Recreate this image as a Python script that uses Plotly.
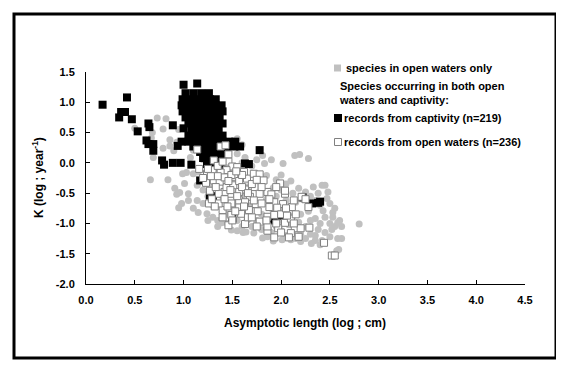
import plotly.graph_objects as go

# ---------------- data ----------------
gray_x = [0.50,0.73,0.82,0.79,0.68,0.86,0.93,0.86,0.79,0.67,0.69,0.66,0.84,0.91,0.96,0.99,1.03,0.93,0.98,0.95,
          1.05,1.01,1.10,1.07,1.14,1.10,1.14,1.20,1.24,1.30,1.39,1.35,1.49,1.55,1.61,1.64,1.72,1.81,1.86,1.92,
          2.01,2.10,2.20,2.31,2.40,2.59,2.57,2.62,2.58,2.80,2.58,2.50,2.53,2.50,2.47,2.42,2.45,2.43,2.35,2.30,
          2.19,2.28,2.14,2.02,1.83,1.81,1.85,1.63,1.92,1.78,
          1.95,2.00,2.05,2.10,2.05,2.12,2.18,2.25,2.15,2.22,2.30,2.35,2.40,2.28,2.20,2.12,2.02,1.98,2.08,2.18,
          2.25,2.35,2.40,2.45,2.38,2.45,2.52,2.55,2.62,2.50,2.30,2.20,2.12,2.00,1.95,1.90,2.42,2.48,2.55,2.60,
          2.53,2.33,2.38,2.00,1.95,1.90,1.75,1.70,1.60,1.55,1.45,1.50,
          1.30,1.40,1.50,1.60,1.70,1.80,1.45,1.55,1.65,1.75,1.25,1.20,1.30,1.40,1.85,1.90,1.20,1.15,1.20,1.25,
          1.30,1.15,1.05,0.95,0.90,1.60,1.55,1.45,1.75,1.65,1.35,1.45,1.60,1.70,1.80,1.85,2.05,2.15,2.25,2.35,
          1.10,1.15,1.05,1.25]
gray_y = [0.57,0.74,0.73,0.56,0.50,0.38,0.34,0.28,0.24,0.41,0.09,-0.28,-0.28,-0.42,-0.49,-0.18,-0.16,-0.52,-0.67,-0.74,
          -0.51,-0.34,0.21,0.09,-0.37,-0.18,-0.62,-0.67,-0.84,-0.90,-0.99,-0.95,-1.11,-1.12,-1.15,-1.14,-1.16,-1.24,-1.22,-1.29,
          -1.27,-1.27,-1.30,-1.33,-1.35,-1.43,-1.45,-1.25,-1.25,-1.01,-0.99,-1.00,-0.82,-0.67,-0.59,-0.37,-0.37,-0.79,-1.20,-0.95,
          0.14,0.07,0.12,-0.01,-0.01,0.12,-0.21,0.09,-0.41,0.22,
          -0.55,-0.45,-0.35,-0.30,-0.62,-0.50,-0.42,-0.48,-0.65,-0.60,-0.55,-0.62,-0.70,-0.80,-0.85,-0.88,-0.80,-0.95,-1.02,-0.98,
          -1.05,-0.92,-1.00,-0.90,-1.10,-1.15,-1.10,-1.05,-1.05,-1.22,-1.18,-1.18,-1.15,-1.12,-1.05,-1.15,-1.28,-0.48,-0.75,-0.95,
          -0.90,-0.40,-0.50,-0.20,-0.28,0.05,0.05,-0.05,0.00,0.15,0.10,-0.10,
          -0.40,-0.55,-0.70,-0.55,-0.70,-0.85,-0.85,-0.95,-0.95,-0.95,-0.55,-0.45,-0.70,-0.80,-0.60,-0.75,-0.30,-0.15,0.05,0.20,
          0.30,0.35,0.45,0.55,0.20,0.30,0.40,-0.20,-0.30,-0.40,-1.05,-1.00,-1.05,-1.05,-1.10,-1.05,-1.20,-1.25,-1.25,-1.28,
          -0.75,-0.82,-0.62,-0.95]

captive_x = [0.17,0.42,0.34,0.36,0.40,0.47,0.53,0.64,0.65,0.62,0.64,0.69,0.69,0.78,0.80,0.89,0.97,0.89,0.94,1.00,
             1.08,1.00,1.14,1.78,1.67,1.17,1.30,1.50,2.00,1.92,2.22,2.32,2.38,2.40,1.63,1.27,
             1.02,1.10,1.18,1.26,
             0.99,1.06,1.13,1.20,1.27,1.33,
             0.98,1.05,1.12,1.19,1.26,1.33,1.39,
             0.99,1.06,1.13,1.20,1.27,1.34,1.40,
             1.02,1.09,1.16,1.23,1.30,1.37,
             1.05,1.12,1.19,1.26,1.33,1.40,
             1.08,1.15,1.22,1.29,1.36,
             1.05,1.12,1.19,1.26,1.33,1.40,
             0.98,1.05,1.12,1.19,1.26,1.33,1.40,1.47,1.53,
             1.10,1.17,1.24,1.31,1.38,1.45,1.52,1.58,
             1.17,1.24,1.31,1.38,1.45,
             1.20,1.27,1.34,1.41,
             1.24,1.31,1.38,
             1.33,1.40]
captive_y = [0.96,1.08,0.75,0.84,0.84,0.72,0.52,0.65,0.59,0.37,0.31,0.31,0.20,0.04,-0.03,0.00,0.00,0.62,0.28,0.57,
             -0.03,1.29,1.31,0.21,-0.02,-0.29,-0.55,-0.92,-0.87,-0.95,-0.57,-0.67,-0.66,-0.64,-0.01,-0.54,
             1.15,1.15,1.15,1.15,
             1.05,1.05,1.05,1.05,1.05,1.05,
             0.95,0.95,0.95,0.95,0.95,0.95,0.95,
             0.85,0.85,0.85,0.85,0.85,0.85,0.85,
             0.75,0.75,0.75,0.75,0.75,0.75,
             0.65,0.65,0.65,0.65,0.65,0.65,
             0.55,0.55,0.55,0.55,0.55,
             0.45,0.45,0.45,0.45,0.45,0.45,
             0.35,0.35,0.35,0.35,0.35,0.35,0.35,0.35,0.35,
             0.27,0.27,0.27,0.27,0.27,0.27,0.27,0.27,
             0.18,0.18,0.18,0.18,0.18,
             0.08,0.08,0.08,0.08,
             -0.02,-0.02,-0.02,
             -0.12,-0.12]

open_x = [1.14,1.38,1.43,1.31,1.46,1.46,1.50,1.16,1.24,1.30,1.37,1.44,1.55,1.62,1.65,1.72,1.78,1.82,1.73,1.86,
          1.63,1.68,1.74,1.80,1.93,1.99,2.04,2.02,2.11,2.21,2.28,2.04,2.10,2.14,2.20,2.29,2.10,2.08,2.18,1.93,
          1.86,1.86,1.78,1.75,1.63,1.46,1.59,1.49,1.40,1.36,1.26,1.49,1.57,1.67,1.76,1.86,1.93,1.88,1.96,2.00,
          2.06,1.97,2.44,2.52,2.55,1.48,1.57,1.42,1.36,1.57,1.44,1.52,1.78,1.72,1.23,1.27,1.31,1.37,1.38,1.42,
          1.49,1.51,1.57,1.60,1.33,1.29,1.42,1.53,1.63,1.66,1.70,1.75,1.90,1.95,2.04,2.13,2.05,2.15,2.25,1.20,
          1.25,1.35,1.40,1.48,1.55,1.60,1.66,1.70,1.85,2.13,1.40,1.50,1.32,1.45,1.62,1.80,1.88,1.95,2.00,1.35,
          1.46,1.54,1.28]
open_y = [0.22,0.27,0.29,0.04,0.14,0.02,-0.06,-0.10,-0.18,-0.12,-0.18,-0.12,-0.07,-0.15,-0.26,-0.18,-0.19,-0.29,-0.40,-0.48,
          -0.44,-0.56,-0.68,-0.67,-0.65,-0.34,-0.51,-0.68,-0.73,-0.56,-0.73,-0.99,-0.92,-1.08,-1.08,-1.07,-1.16,-1.23,-1.22,-1.23,
          -1.12,-1.05,-0.97,-1.05,-1.01,-1.03,-0.84,-0.86,-0.78,-0.67,-0.67,-0.67,-0.73,-0.78,-0.80,-0.89,-0.86,-0.73,-0.74,-0.85,
          -0.87,-1.08,-1.32,-1.53,-1.53,-0.51,-0.48,-0.48,-0.51,-0.62,-0.40,-0.23,-0.51,-0.62,-0.33,-0.46,-0.29,-0.31,-0.16,-0.24,
          -0.20,-0.37,-0.30,-0.20,-0.40,-0.60,-0.60,-0.80,-0.65,-0.90,-0.35,-0.28,-0.52,-0.40,-0.46,-0.62,-0.75,-0.85,-0.60,-0.25,
          -0.10,-0.05,0.02,-0.45,-0.55,-0.40,-0.50,-0.90,-0.95,-1.00,-0.90,-0.95,-0.72,-0.72,-0.72,-0.40,-0.60,-1.00,-1.15,-0.22,
          -0.30,-0.14,-0.22]

x_ticks = [0.0, 0.5, 1.0, 1.5, 2.0, 2.5, 3.0, 3.5, 4.0, 4.5]
y_ticks = [1.5, 1.0, 0.5, 0.0, -0.5, -1.0, -1.5, -2.0]

legend_labels = ["species in open waters only",
                 "Species occurring in both open<br>waters and captivity:",
                 "records from captivity (n=219)",
                 "records from open waters (n=236)"]

# ---------------- figure ----------------
# The page body has an 8px default margin, so the figure is drawn 8px in from the
# window corner; all reference-pixel positions are shifted by OFF.
OFF = 8
W, H = 564 - OFF, 372 - OFF
L, R, T, B = 86 - OFF, 525 - OFF, 72 - OFF, 284 - OFF   # plot area in figure pixels

def px(xp):
    """reference window pixel x -> paper coordinate"""
    return (xp - OFF - L) / (R - L)

def py(yp):
    """reference window pixel y -> paper coordinate"""
    return (B - (yp - OFF)) / (B - T)

FONT = "Arial, Liberation Sans, sans-serif"
GRAY = "#C0C0C0"

fig = go.Figure()
fig.add_trace(go.Scatter(x=gray_x, y=gray_y, mode="markers", name=legend_labels[0],
                         marker=dict(symbol="circle", size=7, color=GRAY, line=dict(width=0))))
fig.add_trace(go.Scatter(x=captive_x, y=captive_y, mode="markers", name=legend_labels[2],
                         marker=dict(symbol="square", size=8, color="black", line=dict(width=0))))
fig.add_trace(go.Scatter(x=open_x, y=open_y, mode="markers", name=legend_labels[3],
                         marker=dict(symbol="square", size=7, color="white",
                                     line=dict(width=1, color="#808080"))))

axis_common = dict(showline=True, linecolor="black", linewidth=1, showgrid=False, zeroline=False,
                   ticks="inside", ticklen=4, tickwidth=1, tickcolor="black",
                   tickfont=dict(family=FONT, size=11, color="black", weight="bold"))

fig.update_xaxes(range=[0, 4.5], tickvals=x_ticks, ticktext=[f"{v:.1f}" for v in x_ticks],
                 ticklabelstandoff=6, **axis_common)
fig.update_yaxes(range=[-2, 1.5], tickvals=y_ticks, ticktext=[f"{v:.1f}" for v in y_ticks],
                 ticklabelstandoff=8, **axis_common)

shapes = [
    # outer frame
    dict(type="rect", xref="paper", yref="paper", x0=px(14), x1=px(556), y0=py(358), y1=py(14),
         line=dict(color="black", width=3), fillcolor="rgba(0,0,0,0)", layer="above"),
    # legend swatches
    dict(type="rect", xref="paper", yref="paper", x0=px(334), x1=px(341), y0=py(71.5), y1=py(64.5),
         line=dict(width=0), fillcolor=GRAY),
    dict(type="rect", xref="paper", yref="paper", x0=px(334), x1=px(342), y0=py(122), y1=py(114),
         line=dict(width=0), fillcolor="black"),
    dict(type="rect", xref="paper", yref="paper", x0=px(334.5), x1=px(341.5), y0=py(145.5), y1=py(138.5),
         line=dict(width=1, color="#808080"), fillcolor="white"),
]

def note(text, xp, yp, size=11, xanchor="left", **kw):
    return dict(text=text, xref="paper", yref="paper", x=px(xp), y=py(yp), showarrow=False,
                xanchor=xanchor, yanchor="middle",
                font=dict(family=FONT, size=size, color="black", weight="bold"), **kw)

annotations = [
    note(legend_labels[0], 344, 68),
    note(legend_labels[1], 337, 93, align="left"),
    note(legend_labels[2], 342, 118),
    note(legend_labels[3], 342, 142),
    note("Asymptotic length (log ; cm)", 305, 323, size=12, xanchor="center"),
    note("K (log ; year<sup>-1</sup>)", 38, 178, size=12, xanchor="center", textangle=-90),
]

fig.update_layout(width=W, height=H, margin=dict(l=L, r=W - R, t=T, b=H - B),
                  paper_bgcolor="white", plot_bgcolor="white", showlegend=False,
                  shapes=shapes, annotations=annotations)

fig.write_html("out.html")
